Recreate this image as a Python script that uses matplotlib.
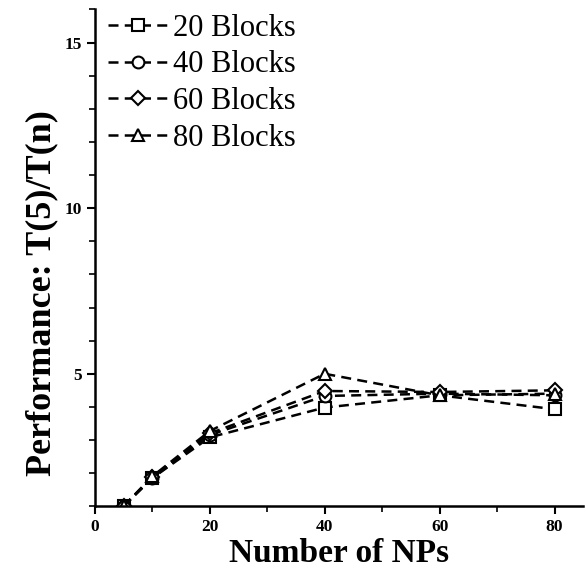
import matplotlib.pyplot as plt
from matplotlib.ticker import MultipleLocator

# Speedup vs. number of NPs for several block counts
nps = [5, 10, 20, 40, 60, 80]
blocks_20 = [1.0, 1.85, 3.08, 3.98, 4.35, 3.93]
blocks_40 = [1.0, 1.85, 3.15, 4.33, 4.40, 4.35]
blocks_60 = [1.0, 1.88, 3.20, 4.48, 4.45, 4.50]
blocks_80 = [1.0, 1.90, 3.27, 5.00, 4.35, 4.40]
labels = ["20 Blocks", "40 Blocks", "60 Blocks", "80 Blocks"]
markers = ["s", "o", "D", "^"]

plt.rcParams['font.family'] = ['Liberation Serif', 'DejaVu Serif']

fig = plt.figure(figsize=(5.85, 5.88), dpi=100)
ax = fig.add_axes([0.162, 0.139, 0.835, 0.845])

for ys, lab, m in zip([blocks_20, blocks_40, blocks_60, blocks_80], labels, markers):
    ax.plot(nps, ys, color="black", linestyle=(0, (4, 2.5)), linewidth=1.8,
            marker=m, markersize=8.5 if m != "D" else 7, markerfacecolor="white",
            markeredgecolor="black", markeredgewidth=1.5, label=lab)

ax.set_xlim(0, 85)
ax.set_ylim(1, 16)
ax.xaxis.set_major_locator(MultipleLocator(20))
ax.xaxis.set_minor_locator(MultipleLocator(10))
ax.yaxis.set_major_locator(MultipleLocator(5))
ax.yaxis.set_minor_locator(MultipleLocator(1))
ax.set_yticks([5, 10, 15])

ax.spines['top'].set_visible(False)
ax.spines['right'].set_visible(False)
ax.spines['left'].set_linewidth(1.8)
ax.spines['bottom'].set_linewidth(1.8)
ax.tick_params(which="major", direction="out", length=6, width=1.5, labelsize=12.5)
ax.tick_params(which="minor", direction="out", length=4, width=1.2)
for t in ax.get_xticklabels() + ax.get_yticklabels():
    t.set_fontweight("bold")

ax.set_xlabel("Number of NPs", fontsize=24, fontweight="bold", labelpad=2)
ax.set_ylabel("Performance: T(5)/T(n)", fontsize=26, fontweight="bold")
ax.yaxis.set_label_coords(-0.075, 0.43)

ax.legend(loc="upper left", bbox_to_anchor=(-0.005, 1.022), frameon=False,
          fontsize=22, handlelength=2.0, handletextpad=0.15,
          labelspacing=0.25, borderaxespad=0.1)

fig.savefig("out.png", dpi=100)
